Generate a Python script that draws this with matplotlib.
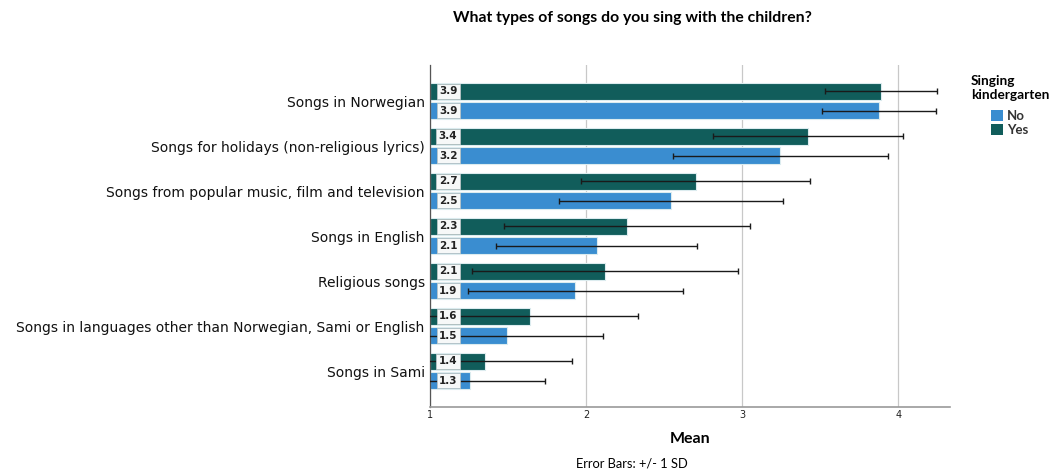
import matplotlib
matplotlib.use("Agg")
import matplotlib.pyplot as plt
from matplotlib.patches import Patch
import numpy as np

# Mean scores and standard deviations per song type
categories = [
    "Songs in Norwegian",
    "Songs for holidays (non-religious lyrics)",
    "Songs from popular music, film and television",
    "Songs in English",
    "Religious songs",
    "Songs in languages other than Norwegian, Sami or English",
    "Songs in Sami",
]
mean_yes = [3.887, 3.420, 2.700, 2.260, 2.120, 1.638, 1.353]
sd_yes = [0.357, 0.607, 0.732, 0.790, 0.850, 0.692, 0.557]
mean_no = [3.876, 3.242, 2.542, 2.066, 1.930, 1.491, 1.257]
sd_no = [0.367, 0.690, 0.720, 0.642, 0.690, 0.616, 0.479]

col_yes = "#115d5b"
col_no = "#3a8dd0"

fig = plt.figure(figsize=(10.49, 4.73), dpi=100)
ax = fig.add_axes([430.3 / 1049, 1 - 407 / 473, (950 - 430.3) / 1049, (407 - 65) / 473])

y = np.arange(len(categories))
off = 0.214
h = 0.378
base = 1.0

for means, sds, dy, col in [(mean_yes, sd_yes, -off, col_yes), (mean_no, sd_no, off, col_no)]:
    means = np.array(means)
    ax.barh(y + dy, means - base, left=base, height=h, color=col,
            edgecolor="#dcecef", linewidth=0.8, zorder=2)
    ax.errorbar(means, y + dy, xerr=sds, fmt="none", ecolor="#1a1a1a",
                elinewidth=1.0, capsize=2.2, capthick=1.0, zorder=3)
    for yi, m in zip(y + dy, means):
        ax.text(1.114, yi, f"{m:.1f}", ha="center", va="center", fontsize=7.5,
                color="#222222", fontweight="semibold", zorder=4,
                bbox=dict(boxstyle="square,pad=0.22", fc="#f6f8f8", ec="#b9c4c6", lw=0.6))

ax.set_xlim(1, 4.33)
ax.set_ylim(6.8, -0.8)
ax.set_xticks([1, 2, 3, 4])
ax.set_xticklabels(["1", "2", "3", "4"], fontsize=7, color="#222222")
ax.tick_params(axis="x", length=0, pad=2)
ax.set_yticks(y)
ax.set_yticklabels(categories, fontsize=10, color="#111111")
ax.tick_params(axis="y", length=0, pad=4)
ax.grid(axis="x", color="#c8c8c8", linewidth=0.9, zorder=0)
ax.set_axisbelow(True)
for s in ["top", "right"]:
    ax.spines[s].set_visible(False)
ax.spines["left"].set_color("#555555")
ax.spines["left"].set_linewidth(0.9)
ax.spines["bottom"].set_color("#9a9a9a")
ax.spines["bottom"].set_linewidth(1.2)

ax.set_xlabel("Mean", fontsize=11.5, fontweight="bold", family="Lato", labelpad=9)

fig.text(632 / 1049, 1 - 18 / 473, "What types of songs do you sing with the children?",
         ha="center", va="center", fontsize=11.3, fontweight="bold", family="Lato")
fig.text(632 / 1049, 1 - 463 / 473, "Error Bars: +/- 1 SD", ha="center", va="center",
         fontsize=9.3, family="Lato")

handles = [Patch(facecolor=col_no, edgecolor="none", label="No"),
           Patch(facecolor=col_yes, edgecolor="none", label="Yes")]
leg = fig.legend(handles=handles, title="Singing\nkindergarten", loc="upper center",
                 bbox_to_anchor=(1010 / 1049, 1 - 66 / 473), frameon=False,
                 prop={"family": "Lato", "weight": "bold", "size": 9.5},
                 title_fontproperties={"family": "Lato", "weight": "bold", "size": 9.8},
                 handlelength=0.9, handleheight=0.9, handletextpad=0.3,
                 labelspacing=0.15, borderpad=0.2)
leg._legend_box.align = "center"
leg._legend_box.sep = 6
for t in leg.get_texts():
    t.set_color("#333333")

fig.savefig("out.png", dpi=100)
